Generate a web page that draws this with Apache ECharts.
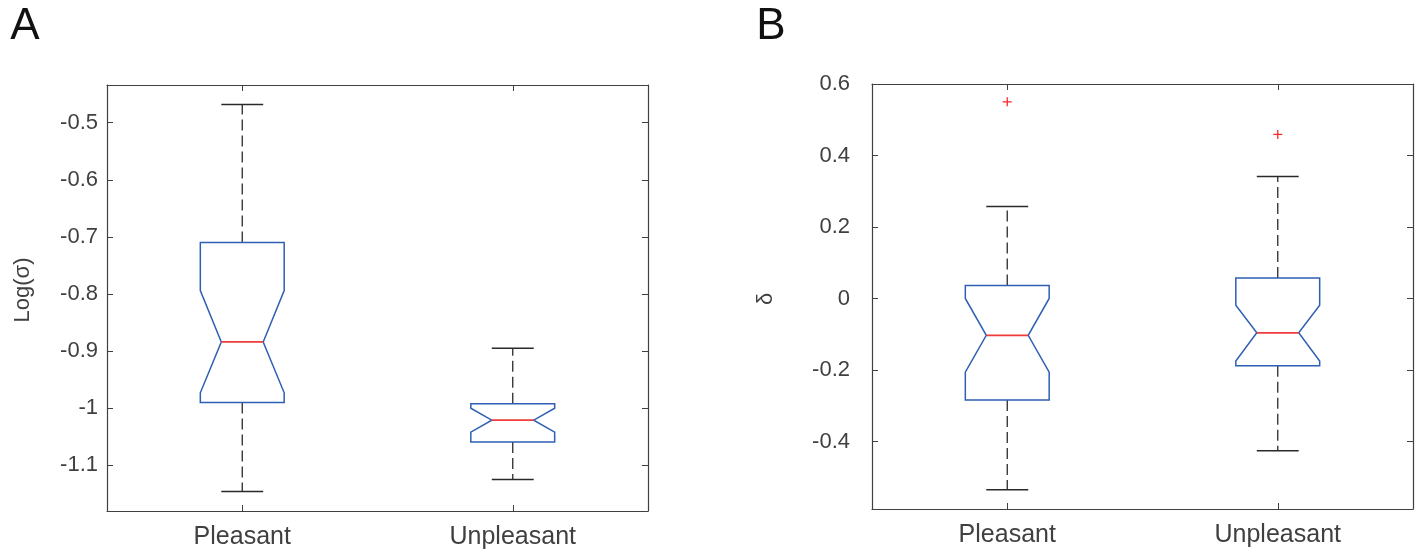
<!DOCTYPE html>
<html>
<head>
<meta charset="utf-8">
<script src="https://cdn.jsdelivr.net/npm/echarts@6/dist/echarts.min.js"></script>
<style>
html,body{margin:0;padding:0;background:#fff;}
#chart{width:1418px;height:556px;}
</style>
</head>
<body>
<div id="chart"></div>
<script>
// ---- Data ----
const categories = ['Pleasant', 'Unpleasant'];

// Panel A: Log(sigma)
const aLowerWhisker = [-1.146, -1.125];
const aQ1          = [-0.990, -1.059];
const aNotchLow    = [-0.973, -1.042];
const aMedian      = [-0.884, -1.021];
const aNotchHigh   = [-0.794, -1.000];
const aQ3          = [-0.710, -0.992];
const aUpperWhisker= [-0.468, -0.895];

// Panel B: delta
const bLowerWhisker = [-0.535, -0.426];
const bQ1          = [-0.284, -0.188];
const bNotchLow    = [-0.206, -0.175];
const bMedian      = [-0.103, -0.096];
const bNotchHigh   = [0.000, -0.019];
const bQ3          = [0.036, 0.057];
const bUpperWhisker= [0.257, 0.341];
const bOutlierCat  = [0, 1];
const bOutlierVal  = [0.550, 0.459];

// ---- Styling ----
const FONT = 'Liberation Sans';
const TXT = '#404040';
const AX = '#404040';
const BOXC = '#2f5fb3';
const MEDC = '#ee3b3b';
const WHC = '#2a2a2a';

function boxRows(lw, q1, nl, md, nh, q3, uw) {
  return categories.map((c, i) => [i, lw[i], q1[i], nl[i], md[i], nh[i], q3[i], uw[i]]);
}

function renderBox(params, api) {
  const i = api.value(0);
  const lw = api.value(1), q1 = api.value(2), nl = api.value(3), md = api.value(4),
        nh = api.value(5), q3 = api.value(6), uw = api.value(7);
  const band = api.size([1, 0])[0];
  const hw = band * 0.155, nw = hw * 0.5;
  const c = api.coord([i, md])[0];
  const y = v => api.coord([i, v])[1];
  const dash = {stroke: WHC, lineWidth: 1.3, lineDash: [11, 5]};
  const solid = {stroke: WHC, lineWidth: 1.5};
  return {
    type: 'group',
    children: [
      {type: 'line', shape: {x1: c, y1: y(q3), x2: c, y2: y(uw)}, style: dash},
      {type: 'line', shape: {x1: c, y1: y(q1), x2: c, y2: y(lw)}, style: dash},
      {type: 'line', shape: {x1: c - nw, y1: y(uw), x2: c + nw, y2: y(uw)}, style: solid},
      {type: 'line', shape: {x1: c - nw, y1: y(lw), x2: c + nw, y2: y(lw)}, style: solid},
      {type: 'polygon', shape: {points: [
        [c - hw, y(q3)], [c + hw, y(q3)], [c + hw, y(nh)], [c + nw, y(md)],
        [c + hw, y(nl)], [c + hw, y(q1)], [c - hw, y(q1)], [c - hw, y(nl)],
        [c - nw, y(md)], [c - hw, y(nh)]
      ]}, style: {fill: 'none', stroke: BOXC, lineWidth: 1.5}},
      {type: 'line', shape: {x1: c - nw, y1: y(md), x2: c + nw, y2: y(md)}, style: {stroke: MEDC, lineWidth: 1.8}}
    ]
  };
}

function renderPlus(params, api) {
  const p = api.coord([api.value(0), api.value(1)]);
  const s = 4.5;
  return {type: 'group', children: [
    {type: 'line', shape: {x1: p[0] - s, y1: p[1], x2: p[0] + s, y2: p[1]}, style: {stroke: '#ff2a2a', lineWidth: 1.3}},
    {type: 'line', shape: {x1: p[0], y1: p[1] - s, x2: p[0], y2: p[1] + s}, style: {stroke: '#ff2a2a', lineWidth: 1.3}}
  ]};
}

function catAxis(grid, pos, showLabel, margin) {
  return {
    type: 'category', gridIndex: grid, position: pos, data: categories, boundaryGap: true,
    axisLine: {show: true, onZero: false, lineStyle: {color: AX, width: 1.2}},
    axisTick: {show: true, inside: true, alignWithLabel: true, length: 6, lineStyle: {color: AX}},
    axisLabel: {show: showLabel, fontFamily: FONT, fontSize: 25, color: TXT, margin: margin},
    splitLine: {show: false}
  };
}
function valAxis(grid, pos, showLabel, min, max, step, showMax, margin) {
  return {
    type: 'value', gridIndex: grid, position: pos, min: min, max: max,
    minInterval: step, maxInterval: step, splitNumber: 6,
    axisLine: {show: true, onZero: false, lineStyle: {color: AX, width: 1.2}},
    axisTick: {show: true, inside: true, length: 6, lineStyle: {color: AX}},
    axisLabel: {show: showLabel, fontFamily: FONT, fontSize: 22, color: TXT, margin: margin,
                showMinLabel: false, showMaxLabel: showMax},
    splitLine: {show: false}
  };
}

const chart = echarts.init(document.getElementById('chart'), null, {renderer: 'canvas'});
chart.setOption({
  backgroundColor: '#fff',
  animation: false,
  grid: [
    {left: 107, top: 85, width: 541, height: 426},
    {left: 872, top: 84, width: 541, height: 425}
  ],
  xAxis: [
    catAxis(0, 'bottom', true, 14),
    catAxis(0, 'top', false, 8),
    catAxis(1, 'bottom', true, 14),
    catAxis(1, 'top', false, 8)
  ],
  yAxis: [
    valAxis(0, 'left', true, -1.18, -0.434, 0.1, false, 9),
    valAxis(0, 'right', false, -1.18, -0.434, 0.1, false, 8),
    valAxis(1, 'left', true, -0.589, 0.6, 0.2, true, 22),
    valAxis(1, 'right', false, -0.589, 0.6, 0.2, false, 8)
  ],
  series: [
    {type: 'custom', xAxisIndex: 0, yAxisIndex: 0, renderItem: renderBox,
     data: boxRows(aLowerWhisker, aQ1, aNotchLow, aMedian, aNotchHigh, aQ3, aUpperWhisker)},
    {type: 'custom', xAxisIndex: 2, yAxisIndex: 2, renderItem: renderBox,
     data: boxRows(bLowerWhisker, bQ1, bNotchLow, bMedian, bNotchHigh, bQ3, bUpperWhisker)},
    {type: 'custom', xAxisIndex: 2, yAxisIndex: 2, renderItem: renderPlus,
     data: bOutlierCat.map((c, i) => [c, bOutlierVal[i]])}
  ],
  graphic: [
    {type: 'text', x: 25, y: 27, style: {text: 'A', font: '44px "Liberation Sans"', fill: '#111', textAlign: 'center', textVerticalAlign: 'middle'}},
    {type: 'text', x: 771, y: 27, style: {text: 'B', font: '44px "Liberation Sans"', fill: '#111', textAlign: 'center', textVerticalAlign: 'middle'}},
    {type: 'text', x: 23, y: 290, rotation: Math.PI / 2, style: {text: 'Log(σ)', font: '22px "Liberation Sans"', fill: TXT, textAlign: 'center', textVerticalAlign: 'middle'}},
    {type: 'text', x: 766, y: 299, rotation: Math.PI / 2, style: {text: 'δ', font: '22px "Liberation Sans"', fill: TXT, textAlign: 'center', textVerticalAlign: 'middle'}}
  ]
});
</script>
</body>
</html>
